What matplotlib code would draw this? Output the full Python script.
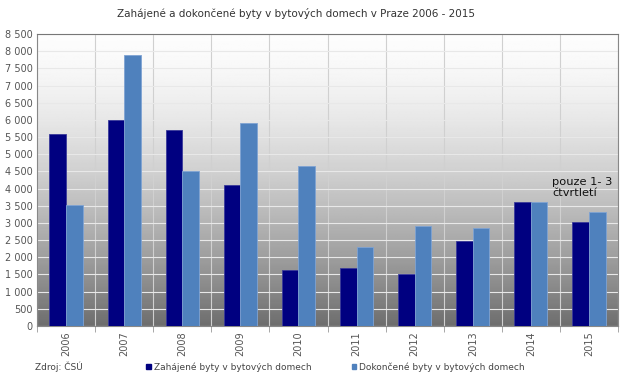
import matplotlib
matplotlib.use("Agg")
import matplotlib.pyplot as plt
import numpy as np
from matplotlib.patches import Rectangle

years = ["2006", "2007", "2008", "2009", "2010", "2011", "2012", "2013", "2014", "2015"]
zahajene = [5600, 6000, 5700, 4100, 1640, 1680, 1510, 2465, 3620, 3020]
dokoncene = [3530, 7900, 4500, 5920, 4670, 2310, 2920, 2850, 3620, 3330]

c_zah = "#000080"
c_dok = "#4f81bd"

fig = plt.figure(figsize=(6.23, 3.83), dpi=100)
ax = fig.add_axes([0.0594, 0.1488, 0.9326, 0.7622])

# gradient background of the plot area
t = np.linspace(0, 1, 256)
v = 0.99 - 0.56 * t ** 1.55
ax.imshow(np.repeat(v[:, None], 2, axis=1), cmap="gray", vmin=0, vmax=1,
          extent=[0, 1, 0, 1], transform=ax.transAxes, aspect="auto", zorder=0)

x = np.arange(len(years))
w = 0.285
ax.bar(x - w / 2, zahajene, w, color=c_zah, edgecolor="#3a3a9a", linewidth=0.6, zorder=3,
       label="Zahájené byty v bytových domech")
ax.bar(x + w / 2, dokoncene, w, color=c_dok, edgecolor="#7fa3d3", linewidth=0.6, zorder=3,
       label="Dokončené byty v bytových domech")

ax.set_xlim(-0.5, len(years) - 0.5)
ax.set_ylim(0, 8500)
ax.set_yticks(range(0, 8501, 500))
ax.set_yticklabels([f"{v:,}".replace(",", " ") for v in range(0, 8501, 500)])
ax.set_xticks(x)
ax.set_xticklabels(years, rotation=90)
ax.set_xticks(np.arange(-0.5, len(years)), minor=True)
ax.tick_params(axis="x", which="major", length=0, pad=4, labelsize=7, labelcolor="#555555")
ax.tick_params(axis="x", which="minor", length=4, color="#999999")
ax.tick_params(axis="y", length=0, pad=3, labelsize=7, labelcolor="#555555")

ax.grid(axis="y", color="#e8e8e8", linewidth=0.8, zorder=1)
ax.grid(axis="x", which="minor", color="#d0d0d0", linewidth=0.8, zorder=1)
ax.set_axisbelow(True)
for s in ax.spines.values():
    s.set_color("#888888")
    s.set_linewidth(0.8)
ax.spines["top"].set_color("#777777")

ax.text(8.37, 4330, "pouze 1- 3\nčtvrtletí", fontsize=8.2, va="top", ha="left",
        color="#111111", zorder=4, linespacing=1.05)

fig.text(0.475, 0.965, "Zahájené a dokončené byty v bytových domech v Praze 2006 - 2015",
         ha="center", va="center", fontsize=7.5, color="#333333")
fig.text(0.056, 0.042, "Zdroj: ČSÚ", fontsize=6.5, color="#444444", va="center")

handles = [Rectangle((0, 0), 1, 1, color=c_zah), Rectangle((0, 0), 1, 1, color=c_dok)]
fig.legend(handles, ["Zahájené byty v bytových domech", "Dokončené byty v bytových domech"],
           loc="center left", bbox_to_anchor=(0.235, 0.042), ncol=2, frameon=False,
           fontsize=6.5, handlelength=0.5, handleheight=0.5, handletextpad=0.3,
           columnspacing=4.5, labelcolor="#444444", borderpad=0, borderaxespad=0)

fig.savefig("out.png", dpi=100)
